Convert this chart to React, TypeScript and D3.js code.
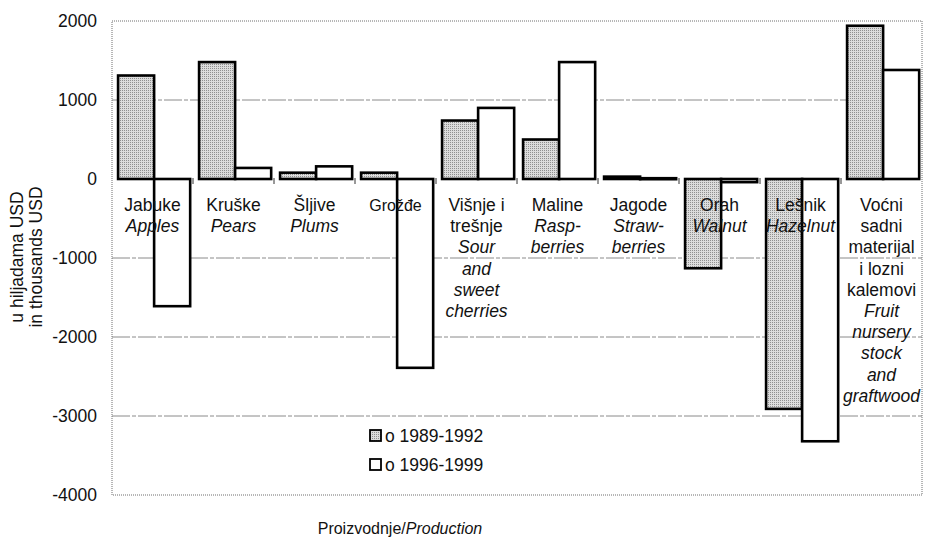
import React from "react";
import * as d3 from "d3";

const categories = ["Jabuke", "Kruške", "Šljive", "Grožđe", "Višnje", "Maline", "Jagode", "Orah", "Lešnik", "Voćni"];
const labelLocal: string[][] = [
  ["Jabuke"], ["Kruške"], ["Šljive"], ["Grožđe"], ["Višnje i", "trešnje"], ["Maline"],
  ["Jagode"], ["Orah"], ["Lešnik"], ["Voćni", "sadni", "materijal", "i lozni", "kalemovi"],
];
const labelEnglish: string[][] = [
  ["Apples"], ["Pears"], ["Plums"], [], ["Sour", "and", "sweet", "cherries"], ["Rasp-", "berries"],
  ["Straw-", "berries"], ["Walnut"], ["Hazelnut"], ["Fruit", "nursery", "stock", "and", "graftwood"],
];
const seriesNames = ["o 1989-1992", "o 1996-1999"];
const values1989 = [1310, 1480, 80, 80, 740, 500, 30, -1130, -2910, 1940];
const values1996 = [-1610, 140, 160, -2390, 900, 1480, 10, -40, -3320, 1380];
const yTicks = [2000, 1000, 0, -1000, -2000, -3000, -4000];

const W = 925, H = 538;
const L = 112, R = 922, T = 21, B = 495;
const font = "'Liberation Sans', Arial, Helvetica, sans-serif";
const FS = 17.5;

export default function App() {
  const x = d3.scaleBand<string>().domain(categories).range([L, R]).padding(0);
  const bw = x.bandwidth();
  const xi = d3.scaleBand<string>().domain(seriesNames).range([bw * 0.075, bw * 0.965]).padding(0);
  const y = d3.scaleLinear().domain([-4000, 2000]).range([B, T]);
  const series = [values1989, values1996];
  const fills = ["url(#stipple)", "#ffffff"];
  const lineH = 21.2;

  return (
    <svg width={W} height={H} style={{ position: "absolute", left: 0, top: 0, background: "#fff" }} fontFamily={font}>
      <defs>
        <pattern id="stipple" width="2" height="2" patternUnits="userSpaceOnUse">
          <rect width="2" height="2" fill="#dcdcdc" />
          <rect width="1" height="1" fill="#8f8f8f" />
        </pattern>
      </defs>
      <rect x={0} y={0} width={W} height={H} fill="#fff" />
      {/* gridlines */}
      {yTicks.filter(t => t !== 2000 && t !== -4000 && t !== 0).map(t => (
        <line key={t} x1={L} x2={R} y1={y(t)} y2={y(t)} stroke="#8a8a8a" strokeWidth={1} strokeDasharray="18,2,4,2" />
      ))}
      {/* plot border */}
      <rect x={L} y={T} width={R - L} height={B - T} fill="none" stroke="#6f6f6f" strokeWidth={1} strokeDasharray="1,1" />
      {/* tick labels */}
      {yTicks.map(t => (
        <text key={t} x={97} y={y(t)} dy="0.35em" textAnchor="end" fontSize={FS} fill="#111">{t}</text>
      ))}
      {/* y title */}
      <g transform={`translate(23,257) rotate(-90)`}>
        <text x={0} y={0} textAnchor="middle" fontSize={FS} fill="#111">u hiljadama USD</text>
        <text x={0} y={19} textAnchor="middle" fontSize={FS} fill="#111">in thousands USD</text>
      </g>
      {/* category ticks at zero */}
      {categories.slice(1).map(c => (
        <line key={c} x1={x(c)!} x2={x(c)!} y1={y(0) - 1} y2={y(0) + 5} stroke="#333" strokeWidth={1} />
      ))}
      {/* bars */}
      {series.map((vals, si) => (
        <g key={si}>
          {vals.map((v, i) => {
            const x0 = x(categories[i])! + xi(seriesNames[si])!;
            const y0 = Math.min(y(v), y(0));
            const h = Math.max(Math.abs(y(v) - y(0)), 1);
            return <rect key={i} x={x0} y={y0} width={xi.bandwidth()} height={h} fill={fills[si]} stroke="#000" strokeWidth={2.6} />;
          })}
        </g>
      ))}
      {/* category labels */}
      {categories.map((c, i) => {
        const cx = x(c)! + bw / 2;
        const lines = [
          ...labelLocal[i].map(s => ({ s, it: false })),
          ...labelEnglish[i].map(s => ({ s, it: true })),
        ];
        return (
          <g key={c}>
            {lines.map((ln, j) => (
              <text key={j} x={cx} y={211 + j * lineH} textAnchor="middle"
                fontSize={c === "Grožđe" ? 16 : FS} fontStyle={ln.it ? "italic" : "normal"} fill="#111">{ln.s}</text>
            ))}
          </g>
        );
      })}
      {/* legend */}
      {seriesNames.map((s, i) => (
        <g key={s}>
          <rect x={370} y={430 + i * 29} width={11} height={11} fill={fills[i]} stroke="#000" strokeWidth={1.8} />
          <text x={385} y={442 + i * 29} fontSize={FS} fill="#111">{s}</text>
        </g>
      ))}
      {/* x title */}
      <text x={400} y={534} textAnchor="middle" fontSize={16} fill="#111">
        Proizvodnje/<tspan fontStyle="italic">Production</tspan>
      </text>
    </svg>
  );
}
